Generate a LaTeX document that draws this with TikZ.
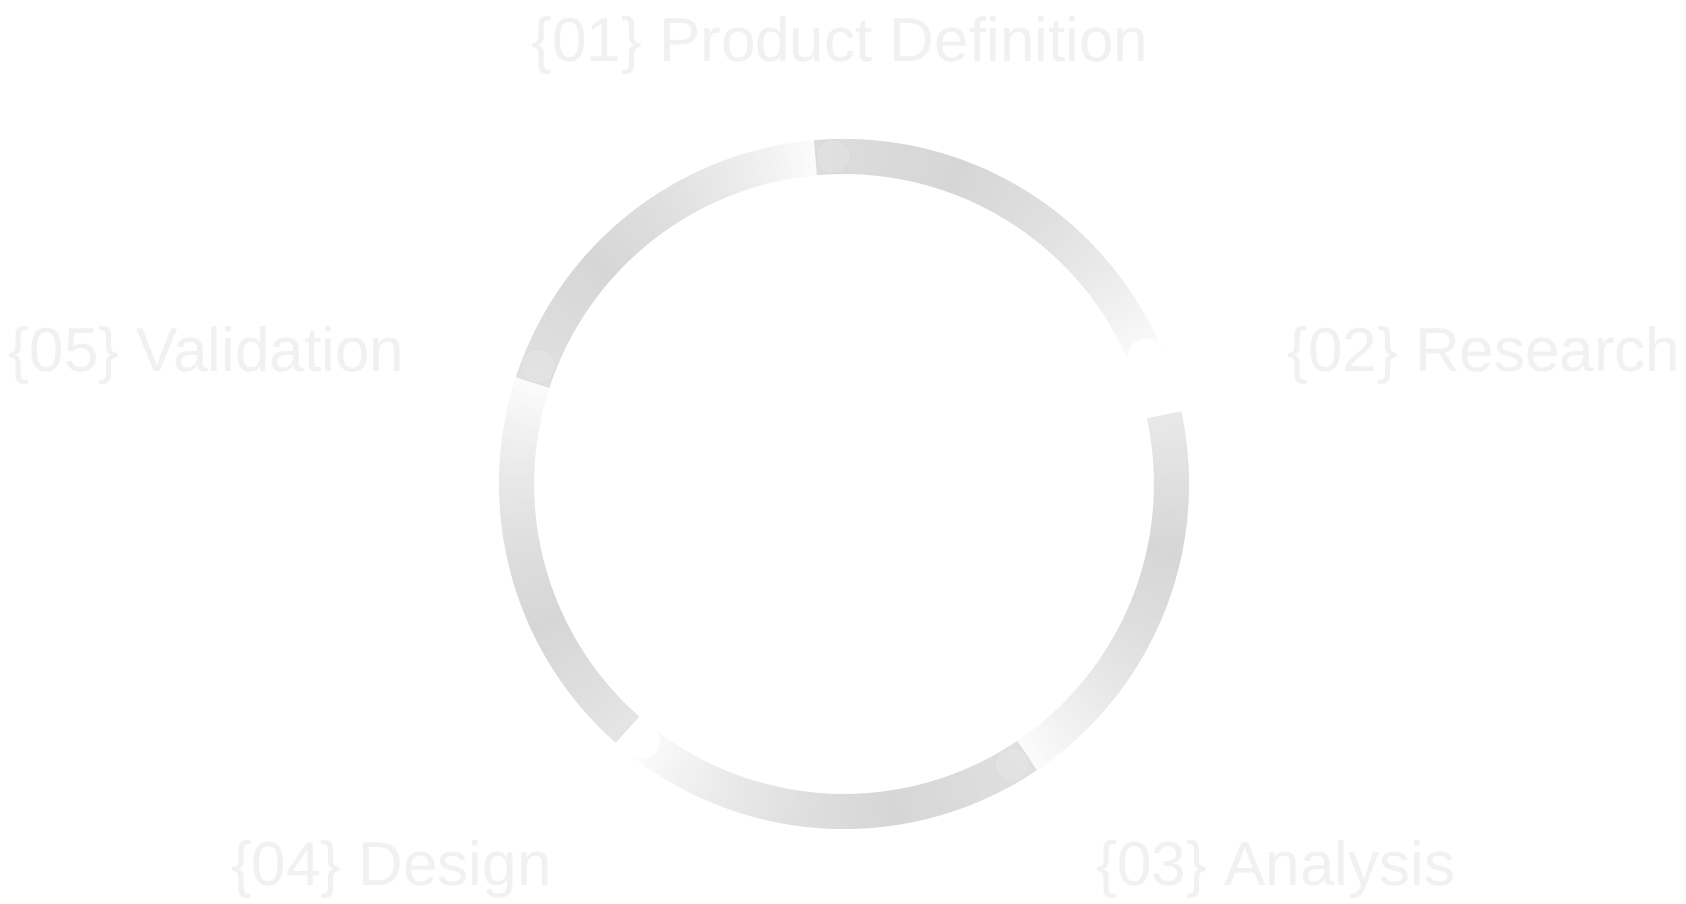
\documentclass[tikz,border=0pt]{standalone}
\usepackage{fontspec}
\setmainfont{Liberation Sans}
\definecolor{ringgray}{HTML}{D6D6D6}
\definecolor{labelgray}{HTML}{F1F1F3}
\newcommand\ringseg[3]{%
  \foreach \i in {0,...,89}{%
    \pgfmathsetmacro\tt{(\i+0.5)/90}%
    \pgfmathsetmacro\aa{#1+(#2-#1)*\i/90}%
    \pgfmathsetmacro\bb{#1+(#2-#1)*min(\i+1.3,90)/90}%
    \pgfmathsetmacro\xx{(\tt-0.35)/0.65}%
    \pgfmathtruncatemacro\pp{(\tt<0.35) ? (#3+(100-#3)*\tt/0.35) : (100-92*(0.5*\xx+0.5*\xx*\xx))}%
    \draw[ringline, color=ringgray!\pp!white] (c) ++(\aa:\R) arc[start angle=\aa, end angle=\bb, radius=\R];
  }%
}
\begin{document}
\begin{tikzpicture}[x=1pt,y=1pt,
  lbl/.style={font=\fontsize{62}{62}\selectfont, text=labelgray, inner sep=0pt, anchor=base},
  ringline/.style={line width=35pt, line cap=butt},
  capmark/.style={draw=black, draw opacity=0.018, fill=white, fill opacity=0.12, line width=0.8pt},
  whitecap/.style={fill=white}]
\useasboundingbox (0,0) rectangle (1686,903);
\fill[white] (0,0) rectangle (1686,903);
\coordinate (c) at (844,419);
\def\R{327.5}
% ring segments (clockwise, dark start -> white end)
\ringseg{162}{95}{75}
\ringseg{95}{23}{85}
\ringseg{12.2}{-56}{55}
\ringseg{-56}{-128}{75}
\ringseg{-131.4}{-198}{65}
% start marks
\path[capmark] (c) ++(91.9:\R) circle[radius=17];
\path[capmark] (c) ++(158.9:\R) circle[radius=17];
\path[capmark] (c) ++(-59.1:\R) circle[radius=17];
% white rounded ends
\path[whitecap] (c) ++(23:\R) circle[radius=17.5];
\path[whitecap] (c) ++(-128:\R) circle[radius=17.5];
% labels
\node[lbl] (l1) at (840,841) {\{01\} Product Definition};
\node[lbl] (l2) at (1484,531) {\{02\} Research};
\node[lbl] (l3) at (1276,18) {\{03\} Analysis};
\node[lbl] (l4) at (391.5,18) {\{04\} Design};
\node[lbl] (l5) at (206.5,531) {\{05\} Validation};
\end{tikzpicture}
\end{document}
